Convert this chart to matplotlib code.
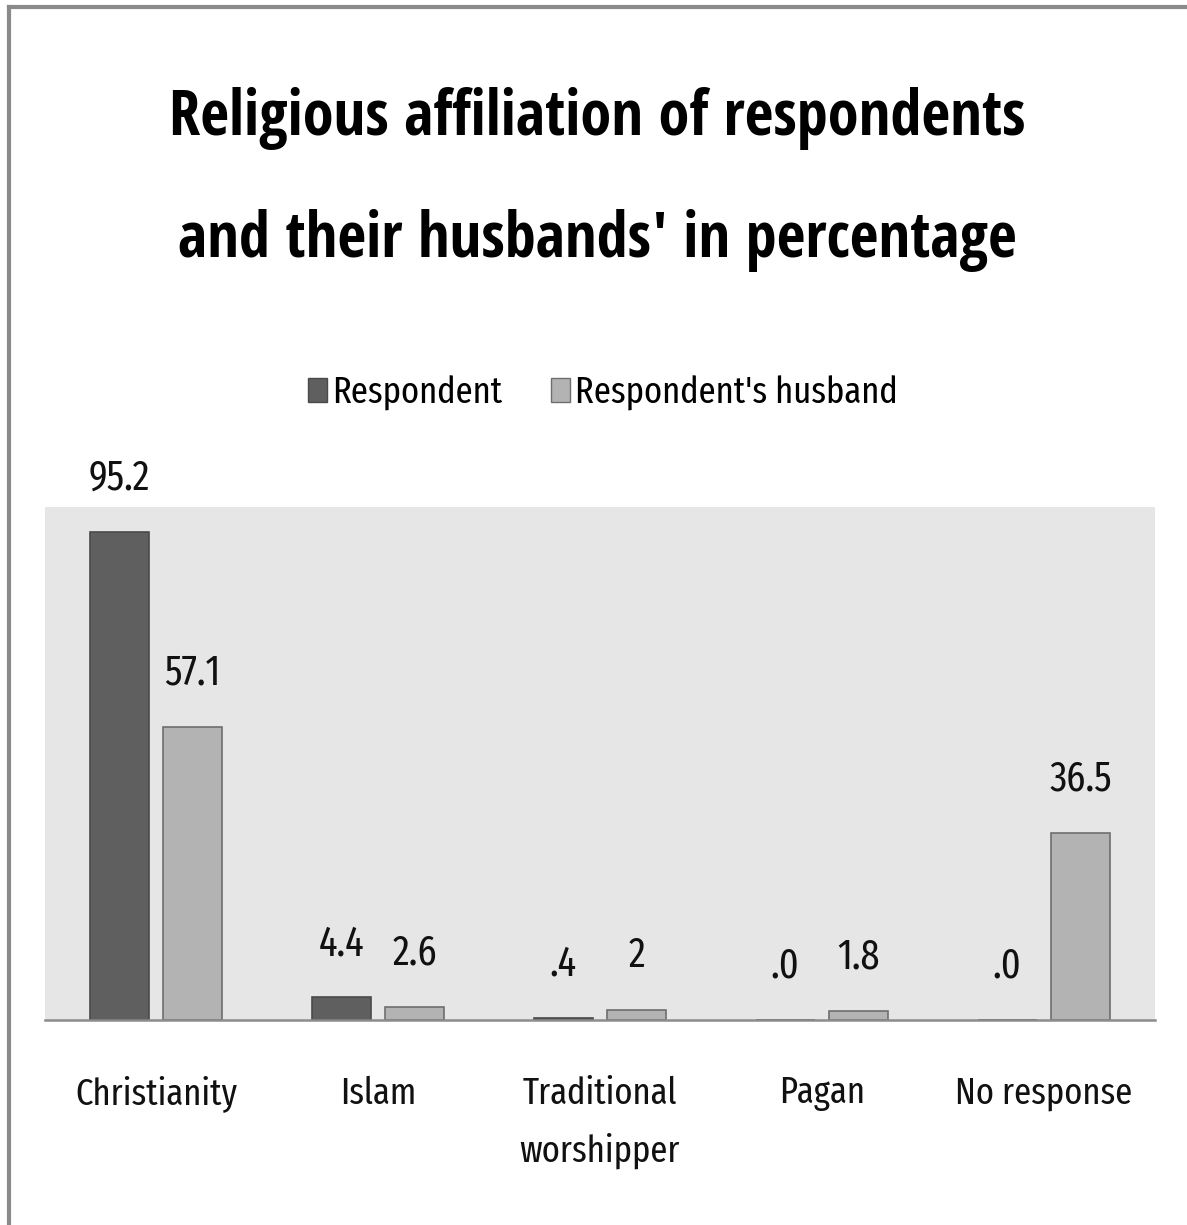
import matplotlib.pyplot as plt
import matplotlib.patches as mpatches
from matplotlib.lines import Line2D
import numpy as np

# data
categories = ['Christianity', 'Islam', 'Traditional\nworshipper', 'Pagan', 'No response']
respondent = [95.2, 4.4, 0.4, 0.0, 0.0]
husband = [57.1, 2.6, 2.0, 1.8, 36.5]
respondent_labels = ['95.2', '4.4', '.4', '.0', '.0']
husband_labels = ['57.1', '2.6', '2', '1.8', '36.5']

plt.rcParams['font.family'] = ['Fira Sans Extra Condensed', 'DejaVu Sans']
title_font = ['Open Sans Condensed', 'DejaVu Sans']

dark = '#5f5f5f'
light = '#b3b3b3'

fig = plt.figure(figsize=(11.87, 12.25), dpi=100)
ax = fig.add_axes([0.0379, 0.1673, 0.935, 0.4188])
ax.set_facecolor('#e6e6e6')

x = np.arange(len(categories))
w = 0.266
off = 0.165
b1 = ax.bar(x - off, respondent, w, color=dark, edgecolor='#4a4a4a', linewidth=1.2)
b2 = ax.bar(x + off, husband, w, color=light, edgecolor='#6e6e6e', linewidth=1.2)

for bars, labs in [(b1, respondent_labels), (b2, husband_labels)]:
    for rect, lab in zip(bars, labs):
        ax.annotate(lab, (rect.get_x() + rect.get_width() / 2, rect.get_height()),
                    xytext=(0, 24), textcoords='offset points',
                    ha='center', va='bottom', fontsize=30, color='#111111')

ax.set_xlim(-0.5, len(categories) - 0.5)
ax.set_ylim(0, 100)
ax.set_yticks([])
ax.set_xticks(x)
ax.set_xticklabels(categories, fontsize=27, color='#111111', linespacing=1.75)
ax.tick_params(axis='x', length=0, pad=40)
for s in ['top', 'left', 'right']:
    ax.spines[s].set_visible(False)
ax.spines['bottom'].set_color('#8c8c8c')
ax.spines['bottom'].set_linewidth(1.8)

# legend
handles = [mpatches.Patch(facecolor=dark, edgecolor='#4a4a4a', label='Respondent'),
           mpatches.Patch(facecolor=light, edgecolor='#6e6e6e', label="Respondent's husband")]
fig.legend(handles=handles, loc='center', bbox_to_anchor=(0.508, 0.679), ncol=2,
           frameon=False, fontsize=27, handlelength=0.5, handleheight=0.6,
           handletextpad=0.15, columnspacing=1.3)

# title, two lines
fig.text(0.503, 1 - 118 / 1225, 'Religious affiliation of respondents', ha='center', va='center',
         fontsize=45, fontweight='bold', family=title_font, color='black')
fig.text(0.503, 1 - 240 / 1225, "and their husbands' in percentage", ha='center', va='center',
         fontsize=45, fontweight='bold', family=title_font, color='black')

# outer border (top and left edges visible)
fig.add_artist(Line2D([9 / 1187, 9 / 1187], [0, 1 - 7 / 1225], transform=fig.transFigure,
                      color='#8a8a8a', linewidth=3))
fig.add_artist(Line2D([9 / 1187, 1], [1 - 7 / 1225, 1 - 7 / 1225], transform=fig.transFigure,
                      color='#8a8a8a', linewidth=3))

fig.savefig('out.png', dpi=100)
